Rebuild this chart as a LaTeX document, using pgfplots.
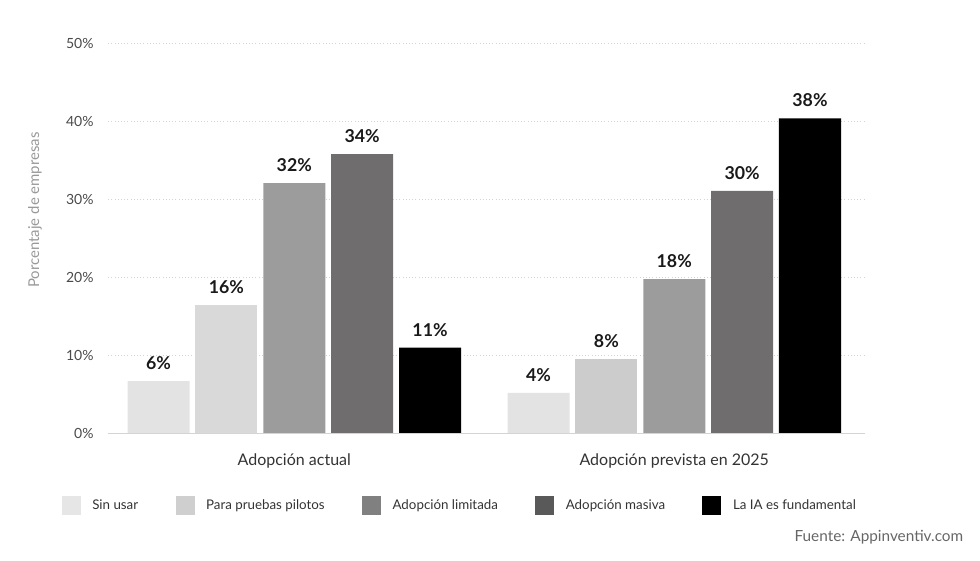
\documentclass[border=0pt]{standalone}
\usepackage{fontspec}
\setmainfont{Lato}
\usepackage{pgfplots}
\pgfplotsset{compat=1.18}
\definecolor{cA}{HTML}{E3E3E3}
\definecolor{cB1}{HTML}{D9D9D9}
\definecolor{cB2}{HTML}{CCCCCC}
\definecolor{cC}{HTML}{9C9C9C}
\definecolor{cD}{HTML}{6F6D6E}
\definecolor{cE}{HTML}{000000}
\definecolor{lA}{HTML}{E6E6E6}
\definecolor{lB}{HTML}{CFCFCF}
\definecolor{lC}{HTML}{808080}
\definecolor{lD}{HTML}{595959}
\definecolor{lE}{HTML}{000000}
\definecolor{gridc}{HTML}{D4D4D4}
\definecolor{tickc}{HTML}{4A4A4A}
\begin{document}
\begin{tikzpicture}
\begin{axis}[
  scale only axis, width=567.5pt, height=292.5pt,
  clip=false,
  xmin=-0.4895, xmax=1.502, ymin=0, ymax=50,
  ybar, bar width=46.5pt,
  axis line style={draw=none},
  major tick length=0pt,
  xtick={0,1}, xticklabels={Adopción actual, Adopción prevista en 2025},
  ytick={0,10,20,30,40,50},
  yticklabel={\pgfmathprintnumber{\tick}\%},
  /pgf/number format/assume math mode=true,
  yticklabel style={font=\fontsize{10.5}{12}\selectfont, text=tickc, xshift=-7.5pt},
  xticklabel style={font=\fontsize{12}{14}\selectfont, text=black!80, yshift=-12pt},
  ymajorgrids, grid style={gridc, dotted, line width=0.6pt},
  point meta=explicit symbolic,
  nodes near coords={\pgfplotspointmeta\%},
  every node near coord/.append style={font=\bfseries\fontsize{13.3}{15}\selectfont, text=black!90, yshift=5pt},
  legend columns=5,
  legend cell align=left,
  legend style={draw=none, fill=none, at={(rel axis cs:0.465,-0.185)}, anchor=center,
    font=\fontsize{10}{12}\selectfont, text=black!80,
    /tikz/every odd column/.append style={column sep=7pt},
    /tikz/every even column/.append style={column sep=26pt}},
]
\addlegendimage{legend image code/.code={\fill[lA] (0pt,-6.75pt) rectangle (13.5pt,6.75pt);}}
\addlegendentry{Sin usar}
\addlegendimage{legend image code/.code={\fill[lB] (0pt,-6.75pt) rectangle (13.5pt,6.75pt);}}
\addlegendentry{Para pruebas pilotos}
\addlegendimage{legend image code/.code={\fill[lC] (0pt,-6.75pt) rectangle (13.5pt,6.75pt);}}
\addlegendentry{Adopción limitada}
\addlegendimage{legend image code/.code={\fill[lD] (0pt,-6.75pt) rectangle (13.5pt,6.75pt);}}
\addlegendentry{Adopción masiva}
\addlegendimage{legend image code/.code={\fill[lE] (0pt,-6.75pt) rectangle (13.5pt,6.75pt);}}
\addlegendentry{La IA es fundamental}

\addplot[forget plot, fill=cA, draw=none, bar shift=-101.8pt] coordinates {(0,6.7) [6] (1,5.2) [4]};
\addplot[forget plot, fill=cB1, draw=none, bar shift=-50.9pt] coordinates {(0,16.5) [16]};
\addplot[forget plot, fill=cB2, draw=none, bar shift=-50.9pt] coordinates {(1,9.6) [8]};
\addplot[forget plot, fill=cC, draw=none, bar shift=0pt] coordinates {(0,32.1) [32] (1,19.8) [18]};
\addplot[forget plot, fill=cD, draw=none, bar shift=50.9pt] coordinates {(0,35.8) [34] (1,31.1) [30]};
\addplot[forget plot, fill=cE, draw=none, bar shift=101.8pt] coordinates {(0,11.0) [11] (1,40.4) [38]};

\draw[gridc, line width=1pt] (rel axis cs:0,0) -- (rel axis cs:1,0);
\node[rotate=90, anchor=center, font=\fontsize{11.2}{13}\selectfont, text=black!40] at (rel axis cs:-0.0969,0.573) {Porcentaje de empresas};
\node[anchor=east, font=\fontsize{11.5}{13}\selectfont, text=black!60] at (rel axis cs:1.136,-0.265) {Fuente: Appinventiv.com};
\coordinate (A) at (rel axis cs:0,0);
\coordinate (B) at (rel axis cs:1,1);
\end{axis}
\path ([shift={(-81.2pt,-94.9pt)}]A) rectangle ([shift={(86.25pt,32.6pt)}]B);
\end{tikzpicture}
\end{document}
